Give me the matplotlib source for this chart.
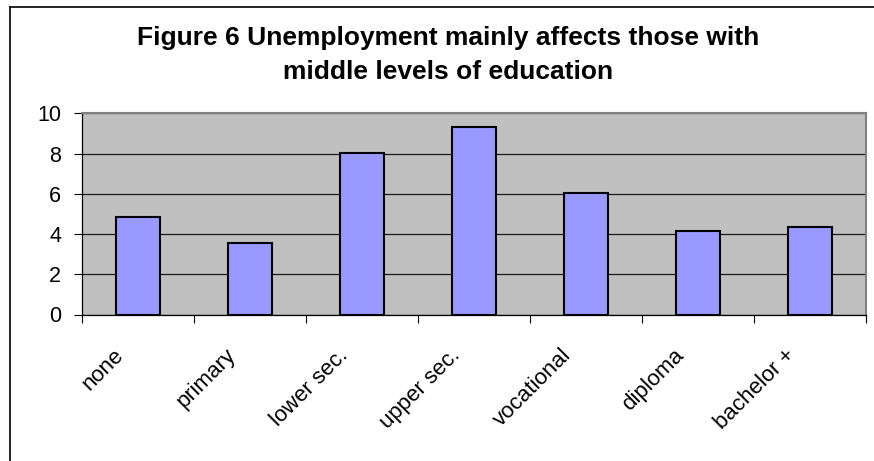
import matplotlib
matplotlib.use("Agg")
import matplotlib.pyplot as plt
import matplotlib.transforms as mtrans
from matplotlib.lines import Line2D

categories = ["none", "primary", "lower sec.", "upper sec.", "vocational",
              "diploma", "bachelor +"]
values = [4.84, 3.54, 8.02, 9.33, 6.04, 4.17, 4.35]
yticks = [0, 2, 4, 6, 8, 10]
title = ("Figure 6 Unemployment mainly affects those with\n"
         "middle levels of education")

plt.rcParams["font.family"] = ["Liberation Sans", "DejaVu Sans"]

W, H = 874, 461
fig = plt.figure(figsize=(W / 100, H / 100), dpi=100)
ax = fig.add_axes([82 / W, 1 - 314.5 / H, (866 - 82) / W, (314.5 - 113.3) / H])

x = range(len(categories))
ax.set_facecolor("#C0C0C0")
ax.bar(x, values, width=0.4, color="#9999FF", edgecolor="black",
       linewidth=1.5, zorder=3)
ax.set_xlim(-0.5, len(categories) - 0.5)
ax.set_ylim(0, 10)
ax.set_yticks(yticks)
ax.yaxis.grid(True, color="#1a1a1a", linewidth=0.9, zorder=1)
ax.set_axisbelow(True)

# excel style: ticks on category boundaries, labels centred
ax.set_xticks([i - 0.5 for i in range(len(categories) + 1)])
ax.set_xticklabels([])
ax.set_xticks(list(x), minor=True)
ax.set_xticklabels(categories, minor=True, rotation=45, ha="right",
                   fontsize=16)
ax.tick_params(axis="x", which="minor", length=0, pad=22)
ax.tick_params(axis="x", which="major", length=6, width=0.8)
ax.tick_params(axis="y", length=6, width=0.8, pad=9, labelsize=15.5)
off = mtrans.ScaledTranslation(-10 / 100, 0, fig.dpi_scale_trans)
for lab in ax.get_xticklabels(minor=True):
    lab.set_transform(lab.get_transform() + off)

for side in ("top", "right"):
    ax.spines[side].set_color("#808080")
    ax.spines[side].set_linewidth(1.5)
ax.spines["left"].set_linewidth(0.9)
ax.spines["bottom"].set_linewidth(0.9)

fig.text(448 / W, 1 - 26 / H, title, ha="center", va="top", fontsize=19,
         fontweight="bold", linespacing=1.55)

# chart frame (runs off the right and bottom of the picture)
fig.add_artist(Line2D([10 / W, 10 / W], [0, 1 - 7 / H], color="black",
                      linewidth=1.2))
fig.add_artist(Line2D([10 / W, 1], [1 - 7 / H, 1 - 7 / H], color="black",
                      linewidth=1.2))

fig.savefig("out.png", dpi=100)
